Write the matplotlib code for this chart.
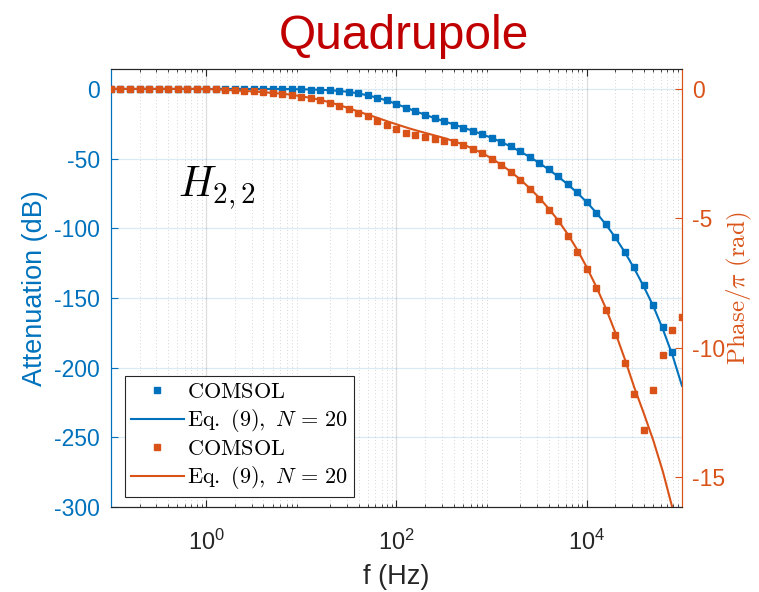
import numpy as np
import matplotlib.pyplot as plt
from matplotlib.ticker import FixedLocator, LogLocator, NullFormatter, FuncFormatter
from matplotlib.lines import Line2D

plt.rcParams['font.family'] = ['Liberation Sans', 'DejaVu Sans']
plt.rcParams['mathtext.fontset'] = 'cm'
plt.rcParams['axes.unicode_minus'] = False

BLUE = '#0072BD'
ORANGE = '#D95319'
TITLE_RED = '#C00000'

# log10 of frequency (Hz), ten samples per decade
log_f = [-1.0, -0.9, -0.8, -0.7, -0.6, -0.5, -0.4, -0.3, -0.2, -0.1,
         0.0, 0.1, 0.2, 0.3, 0.4, 0.5, 0.6, 0.7, 0.8, 0.9,
         1.0, 1.1, 1.2, 1.3, 1.4, 1.5, 1.6, 1.7, 1.8, 1.9,
         2.0, 2.1, 2.2, 2.3, 2.4, 2.5, 2.6, 2.7, 2.8, 2.9,
         3.0, 3.1, 3.2, 3.3, 3.4, 3.5, 3.6, 3.7, 3.8, 3.9,
         4.0, 4.1, 4.2, 4.3, 4.4, 4.5, 4.6, 4.7, 4.8, 4.9,
         5.0]

# attenuation (dB), COMSOL samples (up to 10^4.9 Hz)
att_comsol = [0, 0, 0, 0, 0, 0, 0, 0, 0, 0,
              0, 0, 0, 0, 0, 0, 0, 0, 0, -0.1,
              -0.2, -0.4, -0.6, -0.9, -1.4, -2.1, -3.2, -4.6, -6.3, -8.2,
              -10.8, -13.5, -16.1, -18.6, -21.0, -23.3, -25.5, -27.7, -30.0, -32.5,
              -35.0, -37.9, -41.2, -44.8, -48.6, -52.9, -57.6, -62.6, -68.1, -73.8,
              -81.3, -88.7, -97.1, -106.4, -116.7, -128.1, -141.0, -155.2, -171.1, -189.0]

# attenuation (dB), Eq. (9) with N = 20
att_model = [0, 0, 0, 0, 0, 0, 0, 0, 0, 0,
             0, 0, 0, 0, 0, 0, 0, 0, 0, -0.1,
             -0.2, -0.4, -0.6, -0.9, -1.4, -2.1, -3.2, -4.6, -6.3, -8.3,
             -10.8, -13.4, -16.0, -18.5, -20.9, -23.2, -25.4, -27.7, -30.0, -32.5,
             -35.1, -38.0, -41.3, -44.9, -48.8, -53.1, -57.8, -62.9, -68.5, -74.5,
             -81.3, -88.8, -97.2, -106.6, -117.2, -129.0, -142.0, -156.0, -172.5, -191.0,
             -213.0]

# phase / pi (rad), COMSOL samples
phase_comsol = [0, 0, 0, 0, 0, 0, 0, 0, 0, 0,
                -0.01, -0.02, -0.04, -0.06, -0.08, -0.10, -0.13, -0.16, -0.19, -0.23,
                -0.30, -0.36, -0.45, -0.54, -0.65, -0.79, -0.93, -1.06, -1.25, -1.40,
                -1.56, -1.70, -1.80, -1.87, -1.94, -2.00, -2.07, -2.17, -2.33, -2.49,
                -2.71, -2.95, -3.22, -3.52, -3.86, -4.24, -4.67, -5.12, -5.68, -6.29,
                -6.95, -7.71, -8.54, -9.50, -10.58, -11.80, -13.17, -11.63, -10.30, -9.32,
                -8.80]

# phase / pi (rad), Eq. (9) with N = 20
phase_model = [0, 0, 0, 0, 0, 0, 0, 0, 0, 0,
               -0.01, -0.02, -0.04, -0.06, -0.08, -0.10, -0.13, -0.16, -0.19, -0.23,
               -0.29, -0.35, -0.43, -0.52, -0.63, -0.75, -0.88, -1.00, -1.12, -1.25,
               -1.37, -1.49, -1.60, -1.70, -1.80, -1.90, -2.02, -2.15, -2.31, -2.48,
               -2.69, -2.93, -3.20, -3.50, -3.84, -4.21, -4.63, -5.09, -5.62, -6.22,
               -6.90, -7.65, -8.48, -9.42, -10.45, -11.55, -12.55, -13.60, -14.80, -16.20,
               -17.70]

freq = 10.0 ** np.array(log_f)
freq_comsol_att = freq[:len(att_comsol)]

fig = plt.figure(figsize=(7.59, 5.92), dpi=100)
ax = fig.add_axes([0.1462, 0.1436, 0.7523, 0.740])
ax2 = ax.twinx()

# attenuation on the left axis
ax.plot(freq_comsol_att, att_comsol, 's', color=BLUE, ms=4.6, mec=BLUE, zorder=3)
ax.plot(freq, att_model, '-', color=BLUE, lw=1.5, zorder=2)

# phase on the right axis
ax2.plot(freq, phase_comsol, 's', color=ORANGE, ms=4.6, mec=ORANGE, zorder=3)
ax2.plot(freq, phase_model, '-', color=ORANGE, lw=1.5, zorder=2)

ax.set_xscale('log')
ax.set_xlim(0.1, 1e5)
ax.set_ylim(-300, 14.4)
ax2.set_ylim(-16.16, 0.77)

ax.xaxis.set_major_locator(FixedLocator([1, 1e2, 1e4]))
ax.xaxis.set_minor_locator(LogLocator(base=10, subs=np.arange(2, 10), numticks=20))
ax.xaxis.set_minor_formatter(NullFormatter())
ax.set_yticks([0, -50, -100, -150, -200, -250, -300])
ax2.set_yticks([0, -5, -10, -15])

ax.tick_params(axis='x', which='both', direction='in', top=True, colors='#262626',
               labelsize=17, pad=16)
ax.tick_params(axis='x', which='major', length=5)
ax.tick_params(axis='x', which='minor', length=2.5)
ax.tick_params(axis='y', direction='in', colors=BLUE, labelsize=16.5, length=5, pad=8)
ax2.tick_params(axis='y', direction='in', colors=ORANGE, labelsize=16.5, length=5, pad=7)

ax.xaxis.set_major_formatter(FuncFormatter(lambda v, p: r'$\mathregular{10^{%d}}$' % round(np.log10(v))))

# grid: light blue horizontals, grey vertical decades, dotted minor verticals
ax.grid(True, axis='y', which='major', color=BLUE, alpha=0.15, lw=0.9)
ax.grid(True, axis='x', which='major', color='#262626', alpha=0.15, lw=0.9)
ax.grid(True, axis='x', which='minor', color='#262626', alpha=0.25, lw=0.6, ls=(0, (1, 3)))
ax.set_axisbelow(True)

for a in (ax, ax2):
    a.spines['top'].set_color('#262626')
    a.spines['bottom'].set_color('#262626')
    a.spines['left'].set_color(BLUE)
    a.spines['right'].set_color(ORANGE)
    for s in a.spines.values():
        s.set_linewidth(0.8)

ax.set_xlabel('f (Hz)', fontsize=19.5, color='#262626', labelpad=7)
ax.set_ylabel('Attenuation (dB)', fontsize=19.5, color=BLUE, labelpad=4)
ax2.set_ylabel(r'$\mathrm{Phase}/\pi\ \mathrm{(rad)}$', fontsize=18, color=ORANGE,
               rotation=90, va='center', ha='center')
# centre of the phase label, in axes fraction (just inside the right figure edge)
ax2.yaxis.set_label_coords(1.1, 0.5)

fig.text(0.532, 0.938, 'Quadrupole', ha='center', va='center', fontsize=34.5, color=TITLE_RED)

ax.text(0.117, 0.728, r'$H_{2,2}$', transform=ax.transAxes, fontsize=30,
        ha='left', va='center', color='black')

handles = [
    Line2D([], [], ls='none', marker='s', color=BLUE, ms=4.6),
    Line2D([], [], ls='-', color=BLUE, lw=1.5),
    Line2D([], [], ls='none', marker='s', color=ORANGE, ms=4.6),
    Line2D([], [], ls='-', color=ORANGE, lw=1.5),
]
labels = [r'$\mathrm{COMSOL}$', r'$\mathrm{Eq.\ (9)},\ N\,=\,20$',
          r'$\mathrm{COMSOL}$', r'$\mathrm{Eq.\ (9)},\ N\,=\,20$']
leg = ax2.legend(handles, labels, loc='lower left', bbox_to_anchor=(0.025, 0.023),
                 fontsize=16, frameon=True, fancybox=False, edgecolor='#262626',
                 framealpha=1, borderpad=0.25, labelspacing=0.2, handlelength=2.4,
                 handletextpad=0.15, borderaxespad=0)
leg.get_frame().set_linewidth(0.8)

fig.savefig('out.png', dpi=100)
